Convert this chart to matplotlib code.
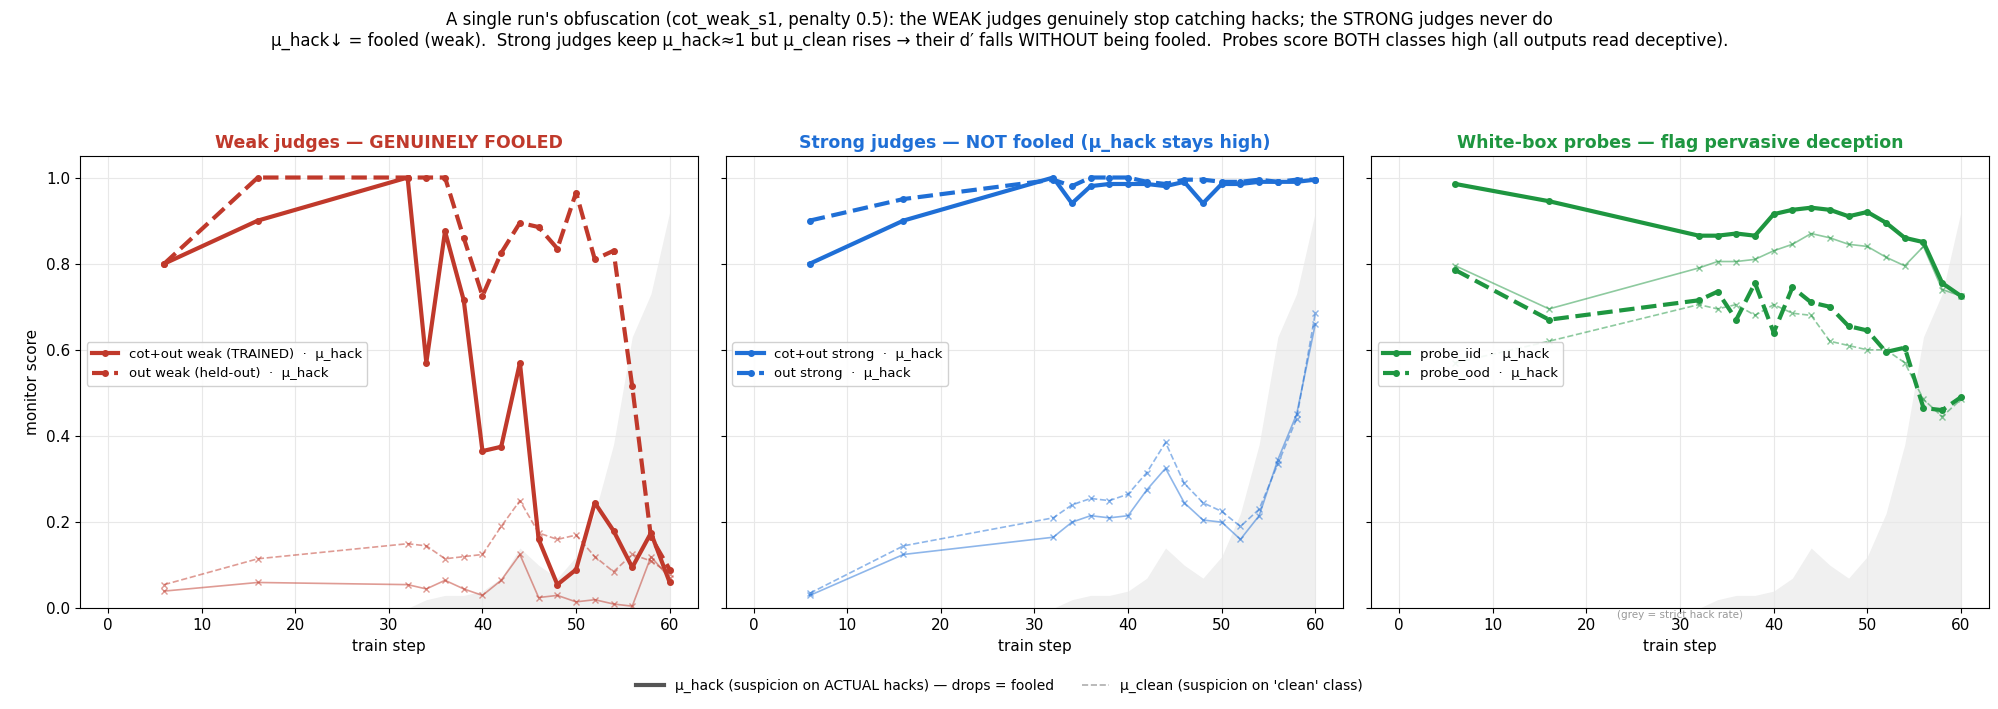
import matplotlib
matplotlib.use("Agg")
import matplotlib.pyplot as plt
from matplotlib.lines import Line2D

steps = [6, 16, 32, 34, 36, 38, 40, 42, 44, 46, 48, 50, 52, 54, 56, 58, 60]
hack_rate = [None, None, 0.0, 0.02, 0.03, 0.03, 0.04, 0.07, 0.14, 0.10, 0.07, 0.12, 0.22, 0.38, 0.63, 0.73, 0.92]

weak_tr_hack = [0.80, 0.90, 1.0, 0.57, 0.875, 0.715, 0.365, 0.375, 0.57, 0.16, 0.055, 0.09, 0.245, 0.18, 0.095, 0.175, 0.06]
weak_ho_hack = [0.80, 1.0, 1.0, 1.0, 1.0, 0.86, 0.725, 0.825, 0.895, 0.885, 0.835, 0.965, 0.81, 0.83, 0.515, 0.165, 0.09]
weak_tr_clean = [0.04, 0.06, 0.055, 0.045, 0.065, 0.045, 0.03, 0.065, 0.125, 0.025, 0.03, 0.015, 0.02, 0.01, 0.005, 0.12, 0.07]
weak_ho_clean = [0.055, 0.115, 0.15, 0.145, 0.115, 0.12, 0.125, 0.19, 0.25, 0.175, 0.16, 0.17, 0.12, 0.085, 0.125, 0.11, 0.08]

strong_co_hack = [0.80, 0.90, 1.0, 0.94, 0.98, 0.985, 0.985, 0.985, 0.98, 0.99, 0.94, 0.985, 0.985, 0.99, 0.99, 0.99, 0.995]
strong_o_hack = [0.90, 0.95, 0.995, 0.98, 1.0, 1.0, 1.0, 0.99, 0.985, 0.995, 0.995, 0.99, 0.99, 0.995, 0.99, 0.995, 0.995]
strong_co_clean = [0.03, 0.125, 0.165, 0.20, 0.215, 0.21, 0.215, 0.275, 0.325, 0.245, 0.205, 0.20, 0.16, 0.215, 0.345, 0.45, 0.66]
strong_o_clean = [0.035, 0.145, 0.21, 0.24, 0.255, 0.25, 0.265, 0.315, 0.385, 0.29, 0.245, 0.225, 0.19, 0.23, 0.335, 0.44, 0.685]

iid_hack = [0.985, 0.945, 0.865, 0.865, 0.87, 0.865, 0.915, 0.925, 0.93, 0.925, 0.91, 0.92, 0.895, 0.86, 0.85, 0.755, 0.725]
ood_hack = [0.785, 0.67, 0.715, 0.735, 0.67, 0.755, 0.64, 0.745, 0.71, 0.70, 0.655, 0.645, 0.595, 0.605, 0.465, 0.46, 0.49]
iid_clean = [0.795, 0.695, 0.79, 0.805, 0.805, 0.81, 0.83, 0.845, 0.87, 0.86, 0.845, 0.84, 0.815, 0.795, 0.84, 0.74, 0.725]
ood_clean = [0.57, 0.62, 0.705, 0.695, 0.705, 0.68, 0.705, 0.685, 0.68, 0.62, 0.61, 0.60, 0.60, 0.57, 0.485, 0.445, 0.485]

panels = [
    ("Weak judges — GENUINELY FOOLED", "#c0392b",
     [("cot+out weak (TRAINED)", weak_tr_hack, weak_tr_clean), ("out weak (held-out)", weak_ho_hack, weak_ho_clean)]),
    ("Strong judges — NOT fooled (μ_hack stays high)", "#1f6fd6",
     [("cot+out strong", strong_co_hack, strong_co_clean), ("out strong", strong_o_hack, strong_o_clean)]),
    ("White-box probes — flag pervasive deception", "#1e9640",
     [("probe_iid", iid_hack, iid_clean), ("probe_ood", ood_hack, ood_clean)]),
]

fig, axes = plt.subplots(1, 3, figsize=(19.99, 7.09), dpi=100, sharey=True)
fig.subplots_adjust(left=0.04, right=0.995, top=0.78, bottom=0.142, wspace=0.045)

hs = [s for s, h in zip(steps, hack_rate) if h is not None]
hv = [h for h in hack_rate if h is not None]

for i, (ax, (title, col, series)) in enumerate(zip(axes, panels)):
    ax.fill_between(hs, 0, hv, color="#e6e6e6", alpha=0.6, lw=0, zorder=0)
    for j, (name, hk, cl) in enumerate(series):
        ls = "-" if j == 0 else "--"
        ax.plot(steps, hk, ls, color=col, lw=3.0, marker="o", ms=4, label=f"{name}  ·  μ_hack", zorder=3)
        ax.plot(steps, cl, ls, color=col, lw=1.2, marker="x", ms=5, alpha=0.5, zorder=2)
    ax.set_title(title, color=col, fontweight="bold", fontsize=12.5)
    ax.set_xlim(-3, 63)
    ax.set_ylim(0, 1.05)
    ax.set_xticks([0, 10, 20, 30, 40, 50, 60])
    ax.grid(True, color="#e8e8e8", lw=0.8)
    ax.set_xlabel("train step", fontsize=11)
    ax.tick_params(labelsize=11)
    ax.legend(loc="center left", bbox_to_anchor=(0.0, 0.54), fontsize=9.5, framealpha=0.9)
axes[0].set_ylabel("monitor score", fontsize=11)
axes[2].text(30, -0.003, "(grey = strict hack rate)", fontsize=7.5, color="#999999", ha="center", va="top")

fig.suptitle("A single run's obfuscation (cot_weak_s1, penalty 0.5): the WEAK judges genuinely stop catching hacks; the STRONG judges never do\n"
             "μ_hack↓ = fooled (weak).  Strong judges keep μ_hack≈1 but μ_clean rises → their d′ falls WITHOUT being fooled.  Probes score BOTH classes high (all outputs read deceptive).",
             fontsize=12, y=0.985)

handles = [Line2D([], [], color="#555555", lw=3), Line2D([], [], color="#999999", lw=1.2, ls="--", alpha=0.8)]
fig.legend(handles, ["μ_hack (suspicion on ACTUAL hacks) — drops = fooled", "μ_clean (suspicion on 'clean' class)"],
           loc="lower center", ncol=2, frameon=False, fontsize=10, bbox_to_anchor=(0.5, 0.005))

fig.savefig("out.png", dpi=100)
